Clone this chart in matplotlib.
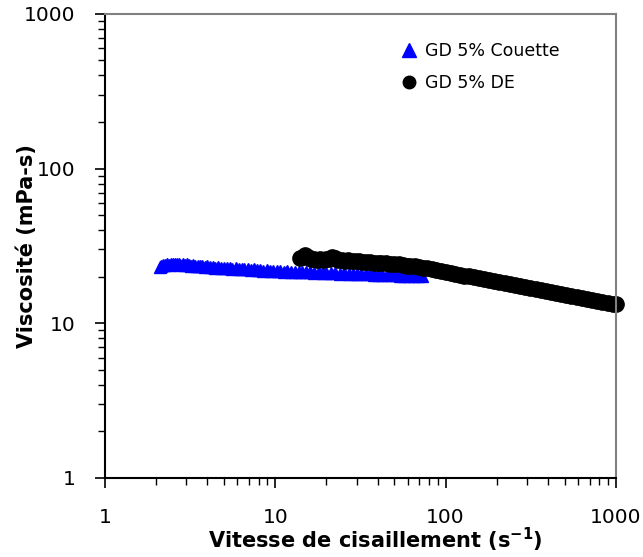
import matplotlib
matplotlib.use("Agg")
from matplotlib import pyplot as plt
from matplotlib.ticker import FixedLocator, FixedFormatter, LogLocator, NullFormatter

# GD 5% Couette (blue triangles)
couette_rate = [2.10, 2.15, 2.20, 2.26, 2.32, 2.38, 2.44, 2.50, 2.57, 2.64, 2.71, 2.78,
                2.86, 2.94, 3.02, 3.10, 3.2, 3.3, 3.4, 3.5, 3.6, 3.7, 3.85, 4.0, 4.15,
                4.3, 4.45, 4.6, 4.8, 5.0, 5.2, 5.4, 5.6, 5.85, 6.1, 6.35, 6.6, 6.9, 7.2,
                7.5, 7.8, 8.1, 8.5, 8.9, 9.3, 9.7, 10.2, 10.7, 11.2, 11.8, 12.4, 13.0,
                13.7, 14.4, 15.2, 16.0, 17.0, 18.0, 19.0, 20.0, 21.2, 22.5, 24.0, 25.5,
                27.0, 28.5, 30.0, 32.0, 34.0, 36.0, 38.0, 40.0, 42.5, 45.0, 48.0, 51.0,
                54.0, 57.0, 61.0, 65.0, 69.0, 73.0]
couette_visc = [23.0, 23.4, 23.7, 23.9, 24.1, 23.9, 24.2, 24.0, 24.3, 24.0, 24.2, 23.9,
                24.1, 23.8, 24.0, 23.7, 23.6, 23.8, 23.5, 23.6, 23.3, 23.5, 23.2, 23.3, 23.0,
                23.2, 22.9, 23.0, 22.8, 22.9, 22.6, 22.8, 22.5, 22.6, 22.4, 22.5, 22.3, 22.4, 22.2,
                22.3, 22.1, 22.2, 21.9, 22.1, 21.8, 21.9, 21.7, 21.8, 21.6, 21.7, 21.5, 21.6,
                21.4, 21.5, 21.3, 21.4, 21.2, 21.3, 21.1, 21.2, 21.0, 21.1, 20.9, 21.0,
                20.8, 20.9, 20.8, 20.8, 20.7, 20.7, 20.6, 20.6, 20.5, 20.5, 20.4, 20.4,
                20.3, 20.3, 20.3, 20.2, 20.2, 20.1]

# GD 5% DE (black circles)
de_rate = [14.0, 14.5, 15.0, 15.6, 16.2, 16.8, 17.5, 18.2, 19.0, 19.8, 20.6, 21.5, 22.5,
           23.5, 24.5, 25.6, 26.8, 28.0, 29.5, 31.0, 32.5, 34.0, 36.0, 38.0, 40.0, 42.0,
           44.5, 47.0, 50.0, 53.0, 56.0, 59.0, 62.0, 66.0, 70.0, 74.0, 78.0, 83.0, 88.0,
           94.0, 100.0, 107.0, 114.0, 121.0, 129.0, 138.0, 147.0, 157.0, 168.0, 180.0,
           193.0, 207.0, 222.0, 238.0, 255.0, 273.0, 293.0, 314.0, 337.0, 361.0, 387.0,
           415.0, 445.0, 477.0, 511.0, 548.0, 588.0, 630.0, 676.0, 725.0, 777.0, 833.0,
           893.0, 957.0, 1000.0]
de_visc = [26.4, 26.8, 27.6, 26.9, 25.9, 26.2, 25.8, 26.0, 25.7, 25.9, 26.1, 26.7, 26.3,
           25.6, 25.5, 25.4, 25.5, 25.3, 25.2, 25.1, 25.0, 24.9, 24.9, 24.7, 24.6, 24.5,
           24.4, 24.3, 24.1, 24.0, 23.8, 23.6, 23.5, 23.3, 23.1, 22.9, 22.7, 22.4, 22.1,
           21.7, 21.4, 21.1, 20.8, 20.6, 20.3, 20.1, 19.9, 19.6, 19.3, 19.0,
           18.8, 18.5, 18.2, 17.9, 17.7, 17.4, 17.2, 16.9, 16.6, 16.4, 16.2,
           16.0, 15.7, 15.5, 15.2, 15.0, 14.7, 14.5, 14.3, 14.1, 13.9, 13.7,
           13.6, 13.4, 13.3]

x_ticks = [1, 10, 100, 1000]
y_ticks = [1, 10, 100, 1000]

fig = plt.figure(figsize=(6.43, 5.57), dpi=100)
ax = fig.add_axes([0.163, 0.142, 0.795, 0.833])

ax.plot(couette_rate, couette_visc, linestyle="none", marker="^", markersize=9,
        color="#0000ff", label="GD 5% Couette", clip_on=False)
ax.plot(de_rate, de_visc, linestyle="none", marker="o", markersize=11,
        color="black", label="GD 5% DE", clip_on=False)

ax.set_xscale("log")
ax.set_yscale("log")
ax.set_xlim(1, 1000)
ax.set_ylim(1, 1000)

ax.xaxis.set_major_locator(FixedLocator(x_ticks))
ax.xaxis.set_major_formatter(FixedFormatter([str(v) for v in x_ticks]))
ax.yaxis.set_major_locator(FixedLocator(y_ticks))
ax.yaxis.set_major_formatter(FixedFormatter([str(v) for v in y_ticks]))
for axis in (ax.xaxis, ax.yaxis):
    axis.set_minor_locator(LogLocator(base=10, subs=range(2, 10)))
    axis.set_minor_formatter(NullFormatter())

ax.tick_params(which="major", direction="out", length=7, width=1.2, labelsize=14.5)
ax.tick_params(which="minor", direction="out", length=5, width=1.0)
ax.tick_params(axis="y", which="major", pad=14)
ax.tick_params(axis="x", which="major", pad=15)

for side in ("left", "bottom"):
    ax.spines[side].set_linewidth(1.5)
    ax.spines[side].set_color("black")
for side in ("top", "right"):
    ax.spines[side].set_linewidth(1.5)
    ax.spines[side].set_color("#808080")

ax.set_xlabel("Vitesse de cisaillement (s$^{\\mathbf{-1}}$)", fontsize=15,
              fontweight="bold", labelpad=-1)
ax.xaxis.label.set_x(0.53)
ax.set_ylabel("Viscosité (mPa-s)", fontsize=15, fontweight="bold", labelpad=-9)

leg = ax.legend(loc="upper left", bbox_to_anchor=(0.545, 0.973), frameon=False,
                fontsize=12.5, handletextpad=0.28, labelspacing=0.8,
                handlelength=1.2)
# legend symbols: triangle a bit larger than the circle, as in the original
leg.legend_handles[0].set_markersize(10)
leg.legend_handles[1].set_markersize(9)

plt.savefig("out.png", dpi=100)
